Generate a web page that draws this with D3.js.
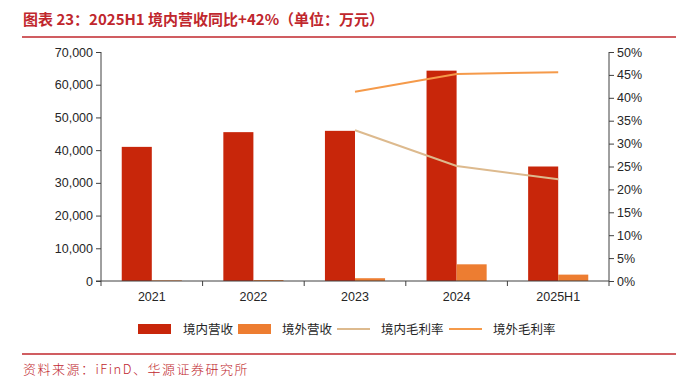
<!DOCTYPE html>
<html><head><meta charset="utf-8">
<script src="https://cdn.jsdelivr.net/npm/d3@7"></script>
<style>
body{margin:0;background:#fff;}
svg{display:block;}
</style></head>
<body><svg id="c" width="676" height="384"></svg>
<script>
const categories = ["2021","2022","2023","2024","2025H1"];
const domesticRevenue = [41000, 45500, 45900, 64300, 35000];
const foreignRevenue = [200, 300, 850, 5100, 1950];
const domesticMarginCats = ["2023","2024","2025H1"];
const domesticMargin = [0.329, 0.251, 0.222];
const foreignMarginCats = ["2023","2024","2025H1"];
const foreignMargin = [0.413, 0.452, 0.456];
const leftTicks = [0,10000,20000,30000,40000,50000,60000,70000];
const rightTicks = [0,0.05,0.10,0.15,0.20,0.25,0.30,0.35,0.40,0.45,0.50];
const seriesNames = ["境内营收","境外营收","境内毛利率","境外毛利率"];
const title = "图表 23：2025H1 境内营收同比+42%（单位：万元）";
const source = "资料来源：iFinD、华源证券研究所";

const C = {dom:"#C8260A", for:"#ED7D31", domLine:"#DDBA8E", forLine:"#F59A4A", red:"#C0272D", axis:"#404040", text:"#262626"};
const svg = d3.select("#c");
const L = 101, R = 609, T = 52, B = 281;

const x = d3.scaleBand().domain(categories).range([L, R]).paddingInner(0).paddingOuter(0);
const xs = d3.scaleBand().domain(["d","f"]).range([0, x.bandwidth()]).paddingInner(0).paddingOuter(0.69);
const yL = d3.scaleLinear().domain([0,70000]).range([B, T]);
const yR = d3.scaleLinear().domain([0,0.5]).range([B, T]);

// title
svg.append("text").attr("x",23).attr("y",25).attr("fill",C.red)
  .attr("font-family","'Noto Sans CJK SC','Noto Sans',sans-serif").attr("font-weight","bold").attr("font-size",15)
  .text(title);
svg.append("line").attr("x1",22).attr("x2",676).attr("y1",37).attr("y2",37).attr("stroke",C.red).attr("stroke-width",1.5);

// bars
const g = svg.append("g");
g.selectAll(".bd").data(categories).join("rect")
  .attr("x",(d)=>x(d)+xs("d")).attr("width",xs.bandwidth())
  .attr("y",(d,i)=>yL(domesticRevenue[i])).attr("height",(d,i)=>B-yL(domesticRevenue[i]))
  .attr("fill",C.dom);
g.selectAll(".bf").data(categories).join("rect")
  .attr("x",(d)=>x(d)+xs("f")).attr("width",xs.bandwidth())
  .attr("y",(d,i)=>yL(foreignRevenue[i])).attr("height",(d,i)=>B-yL(foreignRevenue[i]))
  .attr("fill",C.for);

// lines
const cx = d => x(d) + x.bandwidth()/2;
const line = d3.line();
svg.append("path").attr("d", line(domesticMarginCats.map((c,i)=>[cx(c), yR(domesticMargin[i])])))
  .attr("fill","none").attr("stroke",C.domLine).attr("stroke-width",2);
svg.append("path").attr("d", line(foreignMarginCats.map((c,i)=>[cx(c), yR(foreignMargin[i])])))
  .attr("fill","none").attr("stroke",C.forLine).attr("stroke-width",2);

// axes
const font = "'Liberation Sans',Arial,sans-serif";
const ax = svg.append("g").attr("transform",`translate(${L},0)`)
  .call(d3.axisLeft(yL).tickValues(leftTicks).tickFormat(d3.format(",")).tickSizeOuter(0).tickSize(5).tickPadding(3));
const ar = svg.append("g").attr("transform",`translate(${R},0)`)
  .call(d3.axisRight(yR).tickValues(rightTicks).tickFormat(d3.format(".0%")).tickSizeOuter(0).tickSize(5).tickPadding(3));
const ab = svg.append("g").attr("transform",`translate(0,${B})`)
  .call(d3.axisBottom(x).tickSize(0).tickPadding(11));
ab.selectAll(".tick line").remove();
// category boundary ticks
svg.append("g").selectAll("line").data(categories.slice(1)).join("line")
  .attr("x1",d=>x(d)).attr("x2",d=>x(d)).attr("y1",B).attr("y2",B+5).attr("stroke",C.axis);
[ax,ar,ab].forEach(a=>{
  a.selectAll("path,line").attr("stroke",C.axis);
  a.selectAll("text").attr("font-family",font).attr("font-size",12.5).attr("fill",C.text);
});
ax.select(".domain").attr("d",`M0,${T}V${B+5}`);
ar.select(".domain").attr("d",`M0,${T}V${B+5}`);
ab.select(".domain").attr("d",`M${L-5},0H${R}`);

// legend
const lg = svg.append("g").attr("font-family","'Noto Sans CJK SC',sans-serif").attr("font-size",12.5).attr("fill",C.text);
const items = [
  {type:"rect", color:C.dom, x:138, tx:183},
  {type:"rect", color:C.for, x:238, tx:282},
  {type:"line", color:C.domLine, x:337, tx:381},
  {type:"line", color:C.forLine, x:449, tx:493}
];
items.forEach((it,i)=>{
  if(it.type==="rect") lg.append("rect").attr("x",it.x).attr("y",324).attr("width",33).attr("height",10).attr("fill",it.color);
  else lg.append("line").attr("x1",it.x).attr("x2",it.x+33).attr("y1",329).attr("y2",329).attr("stroke",it.color).attr("stroke-width",2);
  lg.append("text").attr("x",it.tx).attr("y",333.5).text(seriesNames[i]);
});

// footer
svg.append("line").attr("x1",22).attr("x2",676).attr("y1",354).attr("y2",354).attr("stroke",C.red).attr("stroke-width",1.5);
svg.append("text").attr("x",23).attr("y",374).attr("fill",C.red)
  .attr("font-family","'Noto Sans CJK SC',sans-serif").attr("font-weight",300).attr("font-size",13).attr("letter-spacing",1.5)
  .text(source);
</script></body></html>
